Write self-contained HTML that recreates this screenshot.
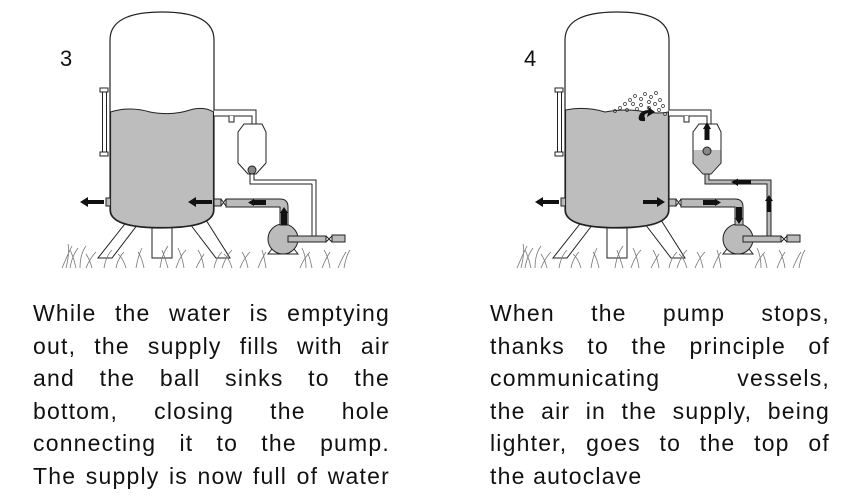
<!DOCTYPE html>
<html><head><meta charset="utf-8"><style>
body{margin:0;width:851px;height:502px;background:#fff;overflow:hidden;position:relative;font-family:"Liberation Sans",sans-serif;color:#111}
.t{position:absolute;font-size:23px;line-height:32.6px;width:357px;letter-spacing:1.2px}
.t div{text-align:justify;text-align-last:justify;white-space:nowrap}
.t div.l{text-align-last:left}
svg{position:absolute;left:0;top:0}
.num{position:absolute;font-size:22px;top:46px}
</style></head><body>
<svg width="851" height="290" viewBox="0 0 851 290">
<defs>
<g id="base" stroke="#222" stroke-width="1" fill="none">
  <path d="M128 220 L98 258 L112 258 L138 224 M152 228 L152 258 L172 258 L172 228 M190 224 L216 258 L230 258 L206 220" fill="#fff"/>
  <path d="M62 268 q6-14 10-22 M66 268 q4-16 2-24 M70 268 q2-12 8-20 M76 268 q-2-10 -6-18 M80 268 q0-14 6-22 M86 268 q4-10 10-16 M92 268 q-2-8 -6-14 M104 268 q2-12 8-18 M116 268 q2-10 8-16 M126 268 q-3-10 -8-14 M136 268 q2-12 6-20 M144 268 q-2-10 -6-16 M160 268 q2-14 8-22 M168 268 q-3-10 -6-18 M176 268 q4-12 10-18 M184 268 q-2-12 -6-20 M196 268 q4-8 8-14 M204 268 q-2-12 -6-18 M214 268 q2-10 8-16 M222 268 q4-12 10-18 M232 268 q-3-10 -8-14 M240 268 q4-10 10-16 M248 268 q-2-10 -6-16 M258 268 q4-10 8-16 M266 268 q-2-12 -4-18 M300 268 q4-10 10-16 M306 268 q0-12 -4-20 M312 268 q-2-10 -4-14 M322 268 q4-10 8-16 M330 268 q-2-12 -6-18 M338 268 q4-10 8-16 M344 268 q2-12 6-18" stroke="#777" stroke-width="0.8"/>
  <path d="M110 210 L110 40 Q110 12 162 12 Q214 12 214 40 L214 210 Q214 228 162 228 Q110 228 110 210 Z" fill="#fff" stroke-width="1.2"/>
  <rect x="102.5" y="90" width="4" height="65" fill="#fff"/>
  <rect x="100" y="88" width="8" height="4" fill="#fff"/>
  <rect x="100" y="152" width="8" height="4" fill="#fff"/>
  <rect x="106" y="198" width="6" height="8" fill="#bbb"/>
  <path d="M268 254 L298 254 L290 244 L276 244 Z" fill="#fff"/>
  <circle cx="283" cy="239" r="15" fill="#bbb"/>
  <rect x="288" y="236" width="38" height="6" fill="#bbb"/>
  <path d="M326 236 L332 242 M326 242 L332 236"/>
  <rect x="332" y="235" width="13" height="7" fill="#bbb"/>
  <rect x="214" y="199" width="7" height="7" fill="#bbb"/>
  <path d="M221 199 L226 206 M221 206 L226 199"/>
  <path d="M226 199 L280 199 Q288 199 288 207 L288 225 L280 225 L280 207 L226 207 Z" fill="#bbb"/>
  <path d="M214 110 L256 110 L256 124 L252 124 L252 116 L214 116" fill="#fff"/>
  <path d="M229 116 L229 122 L234 122 L234 116" fill="#fff"/>
</g>
</defs>

<use href="#base"/>
<path d="M110.6 112 Q130 106 150 112 Q172 116 190 110 Q204 106 213.4 112 L213.4 210 Q213.4 227.4 162 227.4 Q110.6 227.4 110.6 210 Z" fill="#bdbdbd" stroke="#222"/>
<g stroke="#222" fill="none">
<path d="M244 124 L262 124 L266 132 L266 163 L256 174 L248 174 L238 163 L238 132 Z" fill="#fff"/>
<circle cx="252" cy="170" r="4" fill="#888"/>
<path d="M250 174 L250 184 L312 184 L312 232 M254 174 L254 180 L316 180 L316 236" stroke-width="1"/>
<path d="M312 184 L312 236 L316 236 L316 180" fill="#fff"/>
</g>
<g fill="#111">
<path d="M80 202 L88 197 L88 200 L104 200 L104 204 L88 204 L88 207 Z"/>
<path d="M188 202 L196 197 L196 200 L212 200 L212 204 L196 204 L196 207 Z"/>
<rect x="252" y="200" width="14" height="5"/>
<path d="M248 202.5 L254 199 L254 206 Z"/>
<rect x="281" y="212" width="6" height="13"/>
<path d="M284 207 L280 213 L288 213 Z"/>
</g>

<g transform="translate(455 0)">
<use href="#base"/>
<path d="M110.6 110 Q130 106 150 112 Q172 108 190 112 Q204 114 213.4 112 L213.4 210 Q213.4 227.4 162 227.4 Q110.6 227.4 110.6 210 Z" fill="#bdbdbd" stroke="#222"/>
<g stroke="#222" fill="none">
<path d="M244 124 L262 124 L266 132 L266 163 L256 174 L248 174 L238 163 L238 132 Z" fill="#fff"/>
<path d="M238.6 150 L265.4 150 L265.4 163 L256 173.4 L248 173.4 L238.6 163 Z" fill="#bdbdbd" stroke="none"/>
<circle cx="252" cy="151" r="4" fill="#888"/>
<path d="M250 174 L250 184 L312 184 L312 236 L316 236 L316 180 L254 180 L254 174 Z" fill="#bbb"/>
</g>
<g fill="none" stroke="#333" stroke-width="0.7">
<circle cx="175" cy="100" r="1.5"/><circle cx="180" cy="96" r="1.5"/><circle cx="186" cy="99" r="1.5"/><circle cx="190" cy="94" r="1.5"/><circle cx="196" cy="97" r="1.5"/><circle cx="201" cy="93" r="1.5"/><circle cx="170" cy="104" r="1.5"/><circle cx="178" cy="104" r="1.5"/><circle cx="186" cy="105" r="1.5"/><circle cx="194" cy="102" r="1.5"/><circle cx="200" cy="104" r="1.5"/><circle cx="205" cy="100" r="1.5"/><circle cx="165" cy="108" r="1.5"/><circle cx="172" cy="110" r="1.5"/><circle cx="182" cy="109" r="1.5"/><circle cx="204" cy="110" r="1.5"/><circle cx="208" cy="106" r="1.5"/><circle cx="160" cy="111" r="1.5"/><circle cx="194" cy="108" r="1.5"/><circle cx="210" cy="114" r="1.5"/>
</g>
<path d="M190 121 Q182 122 184 116 Q186 110 194 110 L192 106 L200 112 L192 117 L193 113 Q188 114 190 118 Z" fill="#111"/>
<g fill="#111">
<path d="M80 202 L88 197 L88 200 L104 200 L104 204 L88 204 L88 207 Z"/>
<path d="M210 202 L202 197 L202 200 L188 200 L188 204 L202 204 L202 207 Z"/>
<rect x="248" y="200" width="14" height="5"/>
<path d="M266 202.5 L260 199 L260 206 Z"/>
<rect x="281" y="207" width="6" height="12"/>
<path d="M284 224 L280 218 L288 218 Z"/>
<rect x="311.5" y="200" width="5" height="12"/>
<path d="M314 195 L310 201 L318 201 Z"/>
<rect x="282" y="180" width="14" height="4.5"/>
<path d="M276 182 L283 178.5 L283 186 Z"/>
<rect x="249.5" y="128" width="5" height="12"/>
<path d="M252 122 L248 129 L256 129 Z"/>
</g>
</g>
</svg>
<div class="num" style="left:60px">3</div>
<div class="num" style="left:524px">4</div>
<div class="t" style="left:33px;top:297px">
<div>While the water is emptying</div>
<div>out, the supply fills with air</div>
<div>and the ball sinks to the</div>
<div>bottom, closing the hole</div>
<div>connecting it to the pump.</div>
<div>The supply is now full of water</div>
</div>
<div class="t" style="left:490px;top:297px;width:340px">
<div>When the pump stops,</div>
<div>thanks to the principle of</div>
<div>communicating vessels,</div>
<div>the air in the supply, being</div>
<div>lighter, goes to the top of</div>
<div class="l">the autoclave</div>
</div>
</body></html>
